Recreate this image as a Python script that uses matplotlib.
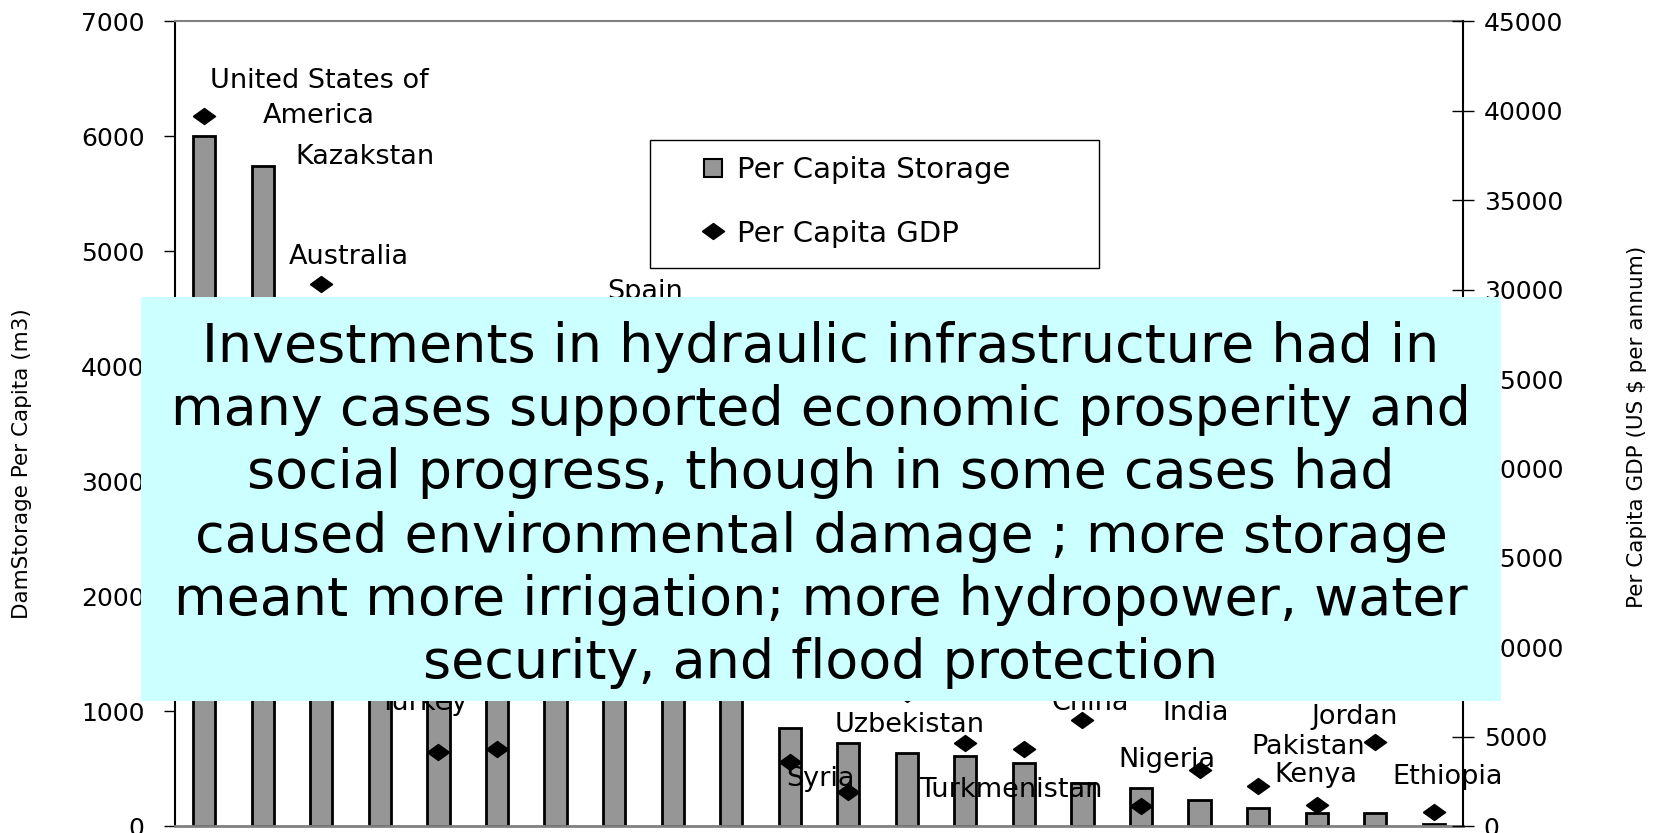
import numpy as np
import matplotlib
matplotlib.use("Agg")
import matplotlib.pyplot as plt
from matplotlib.patches import Rectangle
from matplotlib.lines import Line2D


# countries sorted by dam storage per capita (labels hidden under the text box left blank)
paises = ["United States of\nAmerica", "Kazakstan", "Australia", "", "Turkey", "", "",
          "Spain", "", "", "", "Syria", "Uzbekistan", "", "Turkmenistan", "China",
          "Nigeria", "India", "Pakistan", "Kenya", "Jordan", "Ethiopia"]

# m3 per capita
almacenamiento = [6000, 5745, 4400, 3600, 2900, 2400, 2000, 1700, 1400, 1150, 855,
                  720, 632, 612, 545, 371, 333, 226, 154, 116, 116, 17]

# US$ per annum
pib = [39700, 7500, 30300, 27000, 4150, 4290, 9000, 20000, 13000, 8000, 3600,
       1920, 7400, 4625, 4290, 5930, 1120, 3130, 2240, 1175, 4715, 800]

# where each country name sits (category units, GDP units)
pos_etiquetas = {
    0: (1.96, 40700), 1: (2.75, 37430), 2: (2.47, 31840), 4: (3.74, 6880),
    7: (7.53, 29870), 11: (10.53, 2630), 12: (12.05, 5650), 14: (13.77, 2010),
    15: (15.14, 6880), 16: (16.44, 3690), 17: (16.94, 6340), 18: (18.86, 4435),
    19: (18.98, 2850), 20: (19.65, 6110), 21: (21.23, 2740),
}

texto = ("Investments in hydraulic infrastructure had in\n"
         "many cases supported economic prosperity and\n"
         "social progress, though in some cases had\n"
         "caused environmental damage ; more storage\n"
         "meant more irrigation; more hydropower, water\n"
         "security, and flood protection")

W, H = 1658, 833
fig = plt.figure(figsize=(W / 100, H / 100), dpi=100)
ax = fig.add_axes([175 / W, 1 - 826 / H, (1463 - 175) / W, (826 - 21.4) / H])
ax2 = ax.twinx()

x = np.arange(len(paises))
gris = "#969696"
rombo = [(-1, 0), (0, 0.72), (1, 0), (0, -0.72), (-1, 0)]

ax.bar(x, almacenamiento, width=0.38, color=gris, edgecolor="black", linewidth=2.0, zorder=2)
ax2.plot(x, pib, linestyle="none", marker=rombo, markersize=16, color="black", zorder=3)

ax.set_xlim(-0.5, len(paises) - 0.5)
ax.set_ylim(0, 7000)
ax2.set_ylim(0, 45000)
ax.set_yticks(range(0, 7001, 1000))
ax2.set_yticks(range(0, 45001, 5000))
ax.set_xticks([])

ax.tick_params(axis="y", direction="out", length=8, width=1, labelsize=18, pad=14, colors="black")
ax2.tick_params(axis="y", direction="inout", length=16, width=1, labelsize=18, pad=7, colors="black")

for s in ["top", "bottom"]:
    ax.spines[s].set_color("#808080")
    ax.spines[s].set_linewidth(1.5)
ax.spines["bottom"].set_linewidth(2)
ax.spines["left"].set_linewidth(1.5)
ax.spines["right"].set_visible(False)
for s in ["top", "bottom", "left"]:
    ax2.spines[s].set_visible(False)
ax2.spines["right"].set_linewidth(1.5)

for i, (lx, ly) in pos_etiquetas.items():
    ax2.text(lx, ly, paises[i], ha="center", va="center", fontsize=19.5,
             linespacing=1.45, zorder=4)

fig.text(22.5 / W, 1 - 464 / H, "DamStorage Per Capita (m3)", rotation=90,
         ha="center", va="center", fontsize=15.5)
fig.text(1637 / W, 1 - 427 / H, "Per Capita GDP (US $ per annum)", rotation=90,
         ha="center", va="center", fontsize=15.5)

# legend
fig.add_artist(Rectangle((650 / W, 1 - 268 / H), 449 / W, 128 / H, transform=fig.transFigure,
                         facecolor="white", edgecolor="black", linewidth=1, zorder=4))
manejadores = [
    Line2D([], [], linestyle="none", marker="s", markersize=13, markerfacecolor=gris,
           markeredgecolor="black", markeredgewidth=1.5),
    Line2D([], [], linestyle="none", marker=rombo, markersize=16, color="black"),
]
leg = fig.legend(manejadores, ["Per Capita Storage", "Per Capita GDP"], loc="center left",
                 bbox_to_anchor=(699 / W, 1 - 202 / H), frameon=False, fontsize=21,
                 borderpad=0, borderaxespad=0, handlelength=0.95, handletextpad=0.35,
                 labelspacing=1.2)
leg.set_zorder(5)

# text box over the chart
fig.add_artist(Rectangle((141 / W, 1 - 700.5 / H), (1501 - 141) / W, (700.5 - 297) / H,
                         transform=fig.transFigure, facecolor="#CCFFFF", edgecolor="none",
                         zorder=10))
fig.text(821 / W, 1 - 505 / H, texto, ha="center", va="center", multialignment="center",
         fontsize=38.8, linespacing=1.27, color="black", zorder=11)

fig.savefig("out.png", dpi=100)
